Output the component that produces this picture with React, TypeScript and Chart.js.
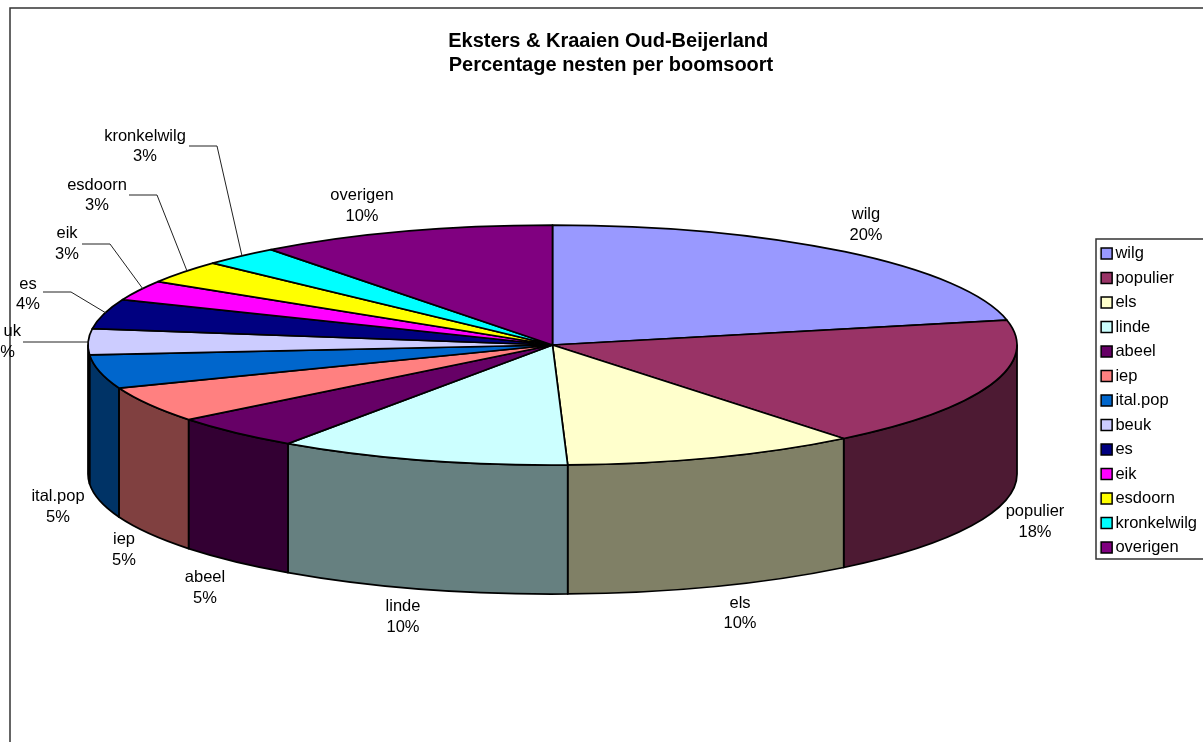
import React, { useEffect, useRef } from "react";
import { Chart, registerables } from "chart.js";

Chart.register(...registerables);

const categories = ["wilg", "populier", "els", "linde", "abeel", "iep", "ital.pop", "beuk", "es", "eik", "esdoorn", "kronkelwilg", "overigen"];
// Estimated shares (%); the printed labels are these values rounded
const shares = [20.4, 17.6, 10.3, 10.2, 4.7, 4.85, 4.55, 3.5, 4.0, 2.7, 3.1, 2.7, 10.4];
const colours = ["#9999FF", "#993366", "#FFFFCC", "#CCFFFF", "#660066", "#FF8080", "#0066CC", "#CCCCFF", "#000080", "#FF00FF", "#FFFF00", "#00FFFF", "#800080"];
const titleLines = ["Eksters & Kraaien Oud-Beijerland ", "Percentage nesten per boomsoort"];

const FONT = "'Liberation Sans', Arial, sans-serif";
const FONT_SIZE = 16.5;

// layout of the tilted pie on the page
const PIE = { cx: 552.5, cy: 345, rx: 464.5, ry: 120, depth: 129 };

// Label layout: centre x, y of first line, y of second line, optional leader polyline
const labelLayout: { x: number; y1: number; y2: number; clipLeft?: number; leader?: number[][] }[] = [
  { x: 866, y1: 214, y2: 235 },
  { x: 1035, y1: 511, y2: 532 },
  { x: 740, y1: 603, y2: 623 },
  { x: 403, y1: 606, y2: 627 },
  { x: 205, y1: 577, y2: 598 },
  { x: 124, y1: 539, y2: 560 },
  { x: 58, y1: 496, y2: 517 },
  { x: 3, y1: 331, y2: 352, clipLeft: 3.2, leader: [[23, 342], [89, 342]] },
  { x: 28, y1: 284, y2: 304, leader: [[43, 292], [71, 292], [106, 313]] },
  { x: 67, y1: 233, y2: 254, leader: [[82, 244], [110, 244], [143, 289]] },
  { x: 97, y1: 185, y2: 205, leader: [[129, 195], [157, 195], [187, 271]] },
  { x: 145, y1: 136, y2: 156, leader: [[189, 146], [217, 146], [242, 256]] },
  { x: 362, y1: 195, y2: 216 },
];

const halve = (hex: string) => {
  const n = parseInt(hex.slice(1), 16);
  const c = [(n >> 16) & 255, (n >> 8) & 255, n & 255].map((v) => Math.round(v / 2));
  return `rgb(${c[0]},${c[1]},${c[2]})`;
};

// The 3D view skews slices a little, as in the original's projected pie
const projectAngle = (angle: number) => {
  const f = (angle + Math.PI / 2) / (2 * Math.PI);
  const skew = 0.0135 * (1 - f) * (1 - Math.exp(-20 * f));
  return (f + skew) * 2 * Math.PI - Math.PI / 2;
};

const pie3d = {
  id: "pie3d",
  beforeDraw(chart: any) {
    const { ctx } = chart;
    ctx.save();
    ctx.fillStyle = "#fff";
    ctx.fillRect(0, 0, chart.width, chart.height);
    ctx.strokeStyle = "#333";
    ctx.lineWidth = 1.5;
    ctx.beginPath();
    ctx.moveTo(10, 760);
    ctx.lineTo(10, 8);
    ctx.lineTo(1220, 8);
    ctx.stroke();
    ctx.restore();
  },
  beforeDatasetDraw(chart: any) {
    const { ctx } = chart;
    const { cx, cy, rx, ry, depth } = PIE;
    const arcs = chart.getDatasetMeta(0).data;
    ctx.save();
    ctx.lineWidth = 1.75;
    ctx.strokeStyle = "#000";
    ctx.lineJoin = "round";
    arcs.forEach((arc: any, i: number) => {
      const a0 = Math.max(projectAngle(arc.startAngle), 0);
      const a1 = Math.min(projectAngle(arc.endAngle), Math.PI);
      if (a1 <= a0) return;
      ctx.beginPath();
      ctx.ellipse(cx, cy, rx, ry, 0, a0, a1);
      ctx.ellipse(cx, cy + depth, rx, ry, 0, a1, a0, true);
      ctx.closePath();
      ctx.fillStyle = halve(colours[i]);
      ctx.fill();
      ctx.stroke();
    });
    arcs.forEach((arc: any, i: number) => {
      ctx.beginPath();
      ctx.moveTo(cx, cy);
      ctx.ellipse(cx, cy, rx, ry, 0, projectAngle(arc.startAngle), projectAngle(arc.endAngle));
      ctx.closePath();
      ctx.fillStyle = colours[i];
      ctx.fill();
      ctx.stroke();
    });
    ctx.restore();
    return false;
  },
  afterDraw(chart: any) {
    const { ctx, legend } = chart;
    ctx.save();
    // legend frame and swatches
    ctx.strokeStyle = "#333";
    ctx.lineWidth = 1.5;
    ctx.beginPath();
    ctx.moveTo(1220, 239);
    ctx.lineTo(1096, 239);
    ctx.lineTo(1096, 559);
    ctx.lineTo(1220, 559);
    ctx.stroke();
    ctx.strokeStyle = "#000";
    ctx.lineWidth = 1.5;
    legend.legendHitBoxes.forEach((box: any, i: number) => {
      const y = box.top + box.height / 2;
      ctx.fillStyle = "#fff";
      ctx.fillRect(box.left - 1, y - 7, 13, 14);
      ctx.fillStyle = colours[i];
      ctx.fillRect(box.left + 1, y - 5.5, 11, 11);
      ctx.strokeRect(box.left + 1, y - 5.5, 11, 11);
    });
    // leaders and data labels
    ctx.strokeStyle = "#222";
    ctx.lineWidth = 1;
    ctx.fillStyle = "#000";
    ctx.font = `${FONT_SIZE}px ${FONT}`;
    ctx.textAlign = "center";
    ctx.textBaseline = "middle";
    labelLayout.forEach((spot, i) => {
      if (spot.leader) {
        ctx.beginPath();
        spot.leader.forEach(([x, y], k) => (k ? ctx.lineTo(x, y) : ctx.moveTo(x, y)));
        ctx.stroke();
      }
      ctx.save();
      if (spot.clipLeft) {
        ctx.beginPath();
        ctx.rect(spot.clipLeft, spot.y1 - 12, 100, 24);
        ctx.clip();
      }
      ctx.fillText(categories[i], spot.x, spot.y1);
      ctx.restore();
      ctx.fillText(`${Math.round(shares[i])}%`, spot.x, spot.y2);
    });
    ctx.restore();
  },
};

export default function App() {
  const ref = useRef<HTMLCanvasElement>(null);
  useEffect(() => {
    const chart = new Chart(ref.current!, {
      type: "pie",
      data: {
        labels: categories,
        datasets: [{ data: shares, backgroundColor: colours, borderColor: "#000", borderWidth: 1 }],
      },
      options: {
        animation: false,
        responsive: false,
        devicePixelRatio: 1,
        layout: { padding: { left: 15, right: -4, top: 29, bottom: -30 } },
        plugins: {
          title: {
            display: true,
            text: titleLines,
            color: "#000",
            font: { family: FONT, size: 20, weight: "bold", lineHeight: 1.2 },
            padding: { top: 0, bottom: 10 },
          },
          legend: {
            position: "right",
            labels: {
              boxWidth: 7,
              boxHeight: 11,
              padding: 8,
              color: "#000",
              font: { family: FONT, size: FONT_SIZE },
            },
          },
          tooltip: { enabled: false },
        },
      },
      plugins: [pie3d],
    } as any);
    return () => chart.destroy();
  }, []);
  return (
    <canvas
      ref={ref}
      width={1203}
      height={742}
      style={{ position: "fixed", left: 0, top: 0, width: 1203, height: 742, display: "block" }}
    />
  );
}
